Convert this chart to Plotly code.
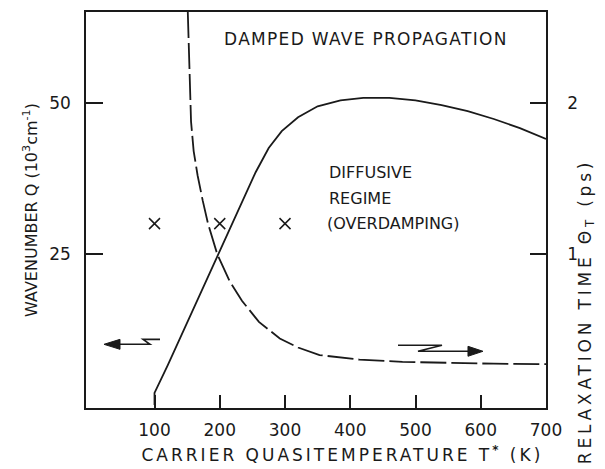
import plotly.graph_objects as go

# ---- data ----
q_temp = [100, 100, 120, 140, 170, 196, 230, 255, 275, 295, 320, 350, 385, 420, 460, 500, 540, 580, 620, 660, 700]
q_vals = [0.0, 2.0, 6.5, 11.2, 18.3, 24.5, 32.5, 38.5, 42.5, 45.3, 47.6, 49.4, 50.4, 50.8, 50.8, 50.4, 49.6, 48.6, 47.3, 45.8, 44.0]

tau_temp = [151, 153, 156, 160, 166, 174, 182, 196, 215, 234, 260, 292, 320, 353, 414, 480, 552, 620, 700]
tau_vals = [2.6, 2.25, 1.875, 1.68, 1.52, 1.35, 1.2, 1.0, 0.82, 0.69, 0.55, 0.44, 0.38, 0.33, 0.30, 0.285, 0.278, 0.273, 0.27]

x_marks_t = [100, 200, 300]
x_marks_q = [30, 30, 30]

x_ticks = [100, 200, 300, 400, 500, 600, 700]
q_ticks = [25, 50]
tau_ticks = [1, 2]

FONT = "DejaVu Sans"
INK = "#1a1a1a"

W, H = 605, 469
L, R, T, B = 86, 546, 10, 408


def px(x):
    return (x - L) / (R - L)


def py(y):
    return (B - y) / (B - T)


fig = go.Figure()
fig.add_trace(go.Scatter(x=q_temp, y=q_vals, mode="lines",
                         line=dict(color=INK, width=1.8), yaxis="y", showlegend=False))
fig.add_trace(go.Scatter(x=tau_temp, y=tau_vals, mode="lines",
                         line=dict(color=INK, width=1.8, dash="26px,5px"), yaxis="y2", showlegend=False))
fig.add_trace(go.Scatter(x=x_marks_t, y=x_marks_q, mode="markers",
                         marker=dict(symbol="x-thin", size=11, line=dict(color=INK, width=1.5)),
                         yaxis="y", showlegend=False))

tickfont = dict(family=FONT, size=17, color=INK)

fig.update_layout(
    width=W, height=H,
    margin=dict(l=L, r=W - R, t=T, b=H - B, pad=0),
    paper_bgcolor="white", plot_bgcolor="white",
    font=dict(family=FONT, color=INK),
    xaxis=dict(range=[-5, 700], tickvals=x_ticks, ticks="inside", ticklen=13, tickwidth=1.5,
               tickcolor=INK, showline=True, linecolor=INK, linewidth=1.5, mirror=True,
               showgrid=False, zeroline=False, tickfont=tickfont, ticklabelstandoff=6),
    yaxis=dict(range=[-0.5, 65], tickvals=q_ticks, ticks="inside", ticklen=17, tickwidth=1.5,
               tickcolor=INK, showline=True, linecolor=INK, linewidth=1.5,
               showgrid=False, zeroline=False, tickfont=tickfont, ticklabelstandoff=10,
               title=dict(text="WAVENUMBER Q (10<sup>3</sup>cm<sup>-1</sup>)",
                          font=dict(family=FONT, size=16, color=INK), standoff=8)),
    yaxis2=dict(range=[-0.02, 2.6], tickvals=tau_ticks, ticks="inside", ticklen=16, tickwidth=1.5,
                tickcolor=INK, overlaying="y", side="right", showline=True, linecolor=INK,
                linewidth=1.5, showgrid=False, zeroline=False, tickfont=tickfont,
                ticklabelstandoff=16),
)

anns = [
    dict(text="DAMPED WAVE PROPAGATION", x=366, y=37, size=17, xa="center"),
    dict(text="DIFFUSIVE", x=327, y=171, size=16, xa="left"),
    dict(text="REGIME", x=327, y=197, size=16, xa="left"),
    dict(text="(OVERDAMPING)", x=325, y=223, size=16, xa="left"),
    dict(text="CARRIER QUASITEMPERATURE T<b><sup>*</sup></b> (K)", x=342, y=454, size=17, xa="center"),
]
for a in anns:
    fig.add_annotation(text=a["text"], x=px(a["x"]), y=py(a["y"]), xref="paper", yref="paper",
                       xanchor=a["xa"], yanchor="middle", showarrow=False,
                       font=dict(family=FONT, size=a["size"], color=INK))

fig.add_annotation(text="RELAXATION TIME Θ<sub>T</sub> (ps)", x=px(586), y=py(311),
                   xref="paper", yref="paper", xanchor="center", yanchor="middle",
                   textangle=-90, showarrow=False,
                   font=dict(family=FONT, size=17, color=INK))


def path(points):
    s = ""
    for i, (x, y) in enumerate(points):
        s += ("M" if i == 0 else "L") + f" {px(x):.4f} {py(y):.4f} "
    return s


# right arrow with zigzag
fig.add_shape(type="path", xref="paper", yref="paper",
              path=path([(398, 345), (442, 345), (418, 351), (470, 351)]),
              line=dict(color=INK, width=1.6))
fig.add_shape(type="path", xref="paper", yref="paper",
              path=path([(468, 346), (483, 351), (468, 356)]) + "Z",
              line=dict(color=INK, width=1), fillcolor=INK)
# left arrow with zigzag
fig.add_shape(type="path", xref="paper", yref="paper",
              path=path([(117, 344), (150, 344), (143, 339), (160, 339)]),
              line=dict(color=INK, width=1.6))
fig.add_shape(type="path", xref="paper", yref="paper",
              path=path([(120, 339), (104, 344), (120, 349)]) + "Z",
              line=dict(color=INK, width=1), fillcolor=INK)

post = """
var st = document.createElement('style');
st.textContent = 'html,body{margin:0;padding:0;overflow:hidden;}';
document.head.appendChild(st);
document.querySelectorAll('.annotation-text').forEach(function(t){
  var k = t.textContent || '';
  if (k.indexOf('DAMPED') === 0) t.style.letterSpacing = '1.3px';
  else if (k.indexOf('CARRIER') === 0) t.style.letterSpacing = '3px';
  else if (k.indexOf('RELAXATION') === 0) t.style.letterSpacing = '3.8px';
});
"""

fig.write_html("out.html", post_script=post, config={"displayModeBar": False})
